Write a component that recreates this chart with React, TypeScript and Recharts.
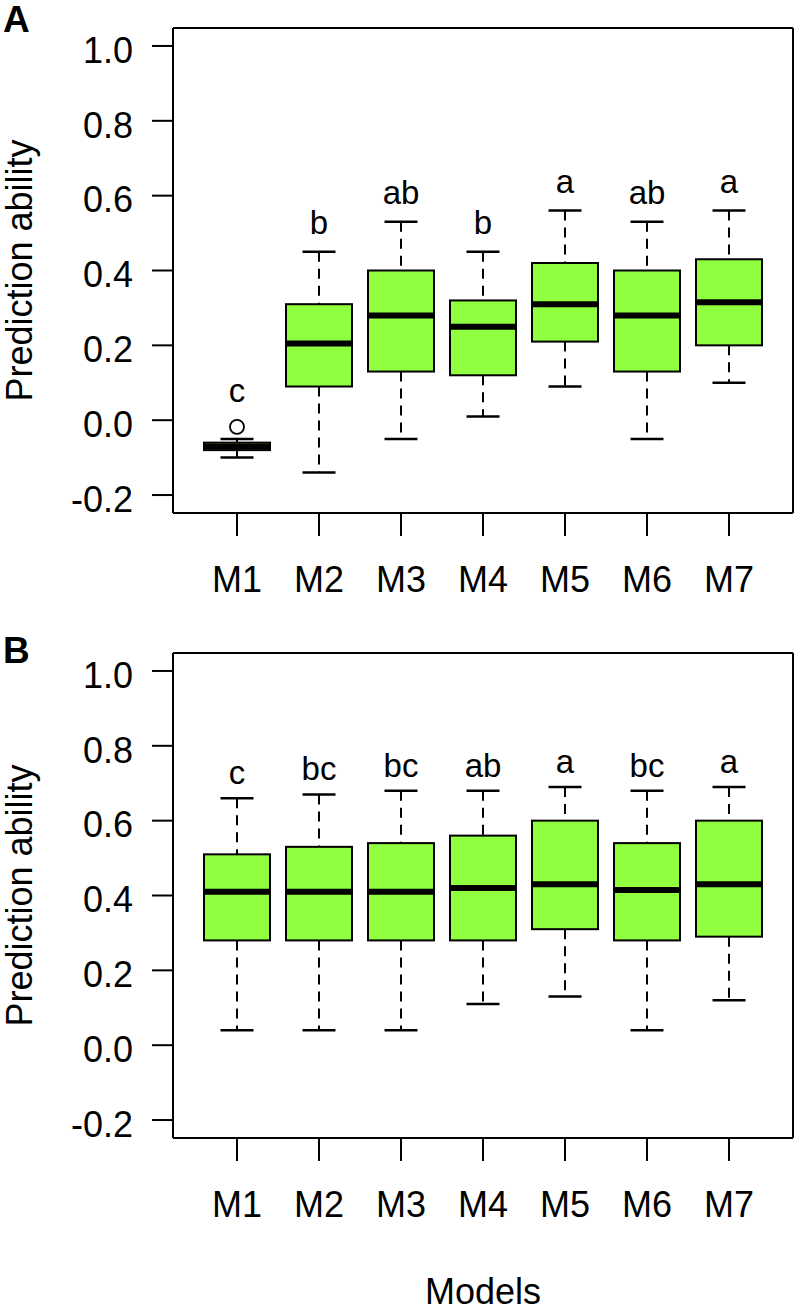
import { Bar, CartesianGrid, ComposedChart, Label, Scatter, XAxis, YAxis } from 'recharts';

const models = ['M1', 'M2', 'M3', 'M4', 'M5', 'M6', 'M7'];
const yTicks = [-0.2, 0, 0.2, 0.4, 0.6, 0.8, 1.0];

// panel A
const lowA = [-0.1, -0.14, -0.05, 0.01, 0.09, -0.05, 0.1];
const q1A = [-0.08, 0.09, 0.13, 0.12, 0.21, 0.13, 0.2];
const medA = [-0.07, 0.205, 0.28, 0.25, 0.31, 0.28, 0.315];
const q3A = [-0.06, 0.31, 0.4, 0.32, 0.42, 0.4, 0.43];
const highA = [-0.05, 0.45, 0.53, 0.45, 0.56, 0.53, 0.56];
const outA = [-0.018, null, null, null, null, null, null];
const lettersA = ['c', 'b', 'ab', 'b', 'a', 'ab', 'a'];

// panel B
const lowB = [0.04, 0.04, 0.04, 0.11, 0.13, 0.04, 0.12];
const q1B = [0.28, 0.28, 0.28, 0.28, 0.31, 0.28, 0.29];
const medB = [0.41, 0.41, 0.41, 0.42, 0.43, 0.415, 0.43];
const q3B = [0.51, 0.53, 0.54, 0.56, 0.6, 0.54, 0.6];
const highB = [0.66, 0.67, 0.68, 0.68, 0.69, 0.68, 0.69];
const outB = [null, null, null, null, null, null, null];
const lettersB = ['c', 'bc', 'bc', 'ab', 'a', 'bc', 'a'];

const FONT = '"Liberation Sans", Arial, Helvetica, sans-serif';
const GREEN = '#8fff3f';
const AXIS_FONT = 36;

type Row = {
  model: string;
  range: [number, number];
  q1: number;
  median: number;
  q3: number;
  outlier: number | null;
  top: number;
  letter: string;
};

function buildRows(
  low: number[],
  q1: number[],
  med: number[],
  q3: number[],
  high: number[],
  out: (number | null)[],
  letters: string[],
): Row[] {
  return models.map((m, i) => ({
    model: m,
    range: [low[i], high[i]],
    q1: q1[i],
    median: med[i],
    q3: q3[i],
    outlier: out[i],
    top: out[i] != null ? Math.max(high[i], out[i] as number) : high[i],
    letter: letters[i],
  }));
}

const rowsA = buildRows(lowA, q1A, medA, q3A, highA, outA, lettersA);
const rowsB = buildRows(lowB, q1B, medB, q3B, highB, outB, lettersB);

function BoxShape(props: any) {
  const { x, y, width, height, payload } = props;
  const top = Math.min(y, y + height);
  const h = Math.abs(height);
  const [lo, hi] = payload.range;
  // bar spans low..high whisker, place quartiles inside it
  const toY = (v: number) => top + ((hi - v) / (hi - lo)) * h;
  const cx = x + width / 2;
  const cap = width / 4;
  const yQ3 = toY(payload.q3);
  const yQ1 = toY(payload.q1);
  const yMed = toY(payload.median);
  return (
    <g>
      <line x1={cx} x2={cx} y1={top} y2={yQ3} stroke="#000" strokeWidth={2} strokeDasharray="10 7" />
      <line x1={cx} x2={cx} y1={yQ1} y2={top + h} stroke="#000" strokeWidth={2} strokeDasharray="10 7" />
      <line x1={cx - cap} x2={cx + cap} y1={top} y2={top} stroke="#000" strokeWidth={2.5} />
      <line x1={cx - cap} x2={cx + cap} y1={top + h} y2={top + h} stroke="#000" strokeWidth={2.5} />
      <rect x={x} y={yQ3} width={width} height={yQ1 - yQ3} fill={GREEN} stroke="#000" strokeWidth={2} />
      <line x1={x} x2={x + width} y1={yMed} y2={yMed} stroke="#000" strokeWidth={6} />
    </g>
  );
}

function OutlierShape(props: any) {
  const { cx, cy, payload } = props;
  if (payload.outlier == null) return <g />;
  return <circle cx={cx} cy={cy} r={7} fill="#fff" stroke="#000" strokeWidth={1.8} />;
}

function makeLetterShape(gap: number) {
  return (props: any) => {
    const { cx, cy, payload } = props;
    const lift = payload.outlier != null ? 7 : 0;
    return (
      <text x={cx} y={cy - gap - lift} textAnchor="middle" fontSize={33} fill="#000">
        {payload.letter}
      </text>
    );
  };
}

// frame lines on the plot area edges
const frameRows = ({ offset }: any) => [offset.top, offset.top + offset.height];
const frameCols = ({ offset }: any) => [offset.left, offset.left + offset.width];

interface PanelProps {
  rows: Row[];
  height: number;
  axisHeight: number;
  letterGap: number;
  xTitle?: string;
}

function Panel({ rows, height, axisHeight, letterGap, xTitle }: PanelProps) {
  const axisLine = { stroke: '#000', strokeWidth: 2 };
  return (
    <ComposedChart width={797} height={height} data={rows} margin={{ top: 28, right: 4, bottom: 0, left: 0 }}>
      <CartesianGrid
        stroke="#000"
        strokeWidth={2}
        horizontalCoordinatesGenerator={frameRows}
        verticalCoordinatesGenerator={frameCols}
      />
      <XAxis
        dataKey="model"
        height={axisHeight}
        interval={0}
        padding={{ left: 23, right: 23 }}
        tickSize={23}
        tickMargin={30}
        axisLine={axisLine}
        tickLine={axisLine}
        tick={{ fontSize: AXIS_FONT, fill: '#000' }}
      >
        {xTitle && (
          <Label value={xTitle} position="insideBottom" offset={7} style={{ fontSize: AXIS_FONT, fill: '#000' }} />
        )}
      </XAxis>
      <YAxis
        type="number"
        domain={[-0.248, 1.048]}
        ticks={yTicks}
        allowDataOverflow
        width={173}
        tickSize={21}
        tickMargin={19}
        tickFormatter={(v: number) => v.toFixed(1)}
        axisLine={axisLine}
        tickLine={axisLine}
        tick={{ fontSize: AXIS_FONT, fill: '#000', dy: 4 }}
      >
        <Label
          value="Prediction ability"
          angle={-90}
          position="insideLeft"
          offset={19}
          style={{ fontSize: AXIS_FONT, fill: '#000', textAnchor: 'middle' }}
        />
      </YAxis>
      <Bar dataKey="range" barSize={66} shape={<BoxShape />} isAnimationActive={false} />
      <Scatter dataKey="outlier" shape={<OutlierShape />} isAnimationActive={false} />
      <Scatter dataKey="top" shape={makeLetterShape(letterGap)} isAnimationActive={false} />
    </ComposedChart>
  );
}

export default function App() {
  const panelLetter = { position: 'absolute' as const, left: 3, fontSize: 37, fontWeight: 'bold', lineHeight: '37px' };
  return (
    <div
      style={{
        position: 'absolute',
        left: 0,
        top: 0,
        width: 797,
        height: 1311,
        background: '#fff',
        fontFamily: FONT,
      }}
    >
      <div style={{ position: 'absolute', left: 0, top: 0 }}>
        <Panel rows={rowsA} height={625} axisHeight={112} letterGap={18} />
      </div>
      <div style={{ position: 'absolute', left: 0, top: 625 }}>
        <Panel rows={rowsB} height={686} axisHeight={173} letterGap={14} xTitle="Models" />
      </div>
      <div style={{ ...panelLetter, top: 1 }}>A</div>
      <div style={{ ...panelLetter, top: 632 }}>B</div>
    </div>
  );
}
